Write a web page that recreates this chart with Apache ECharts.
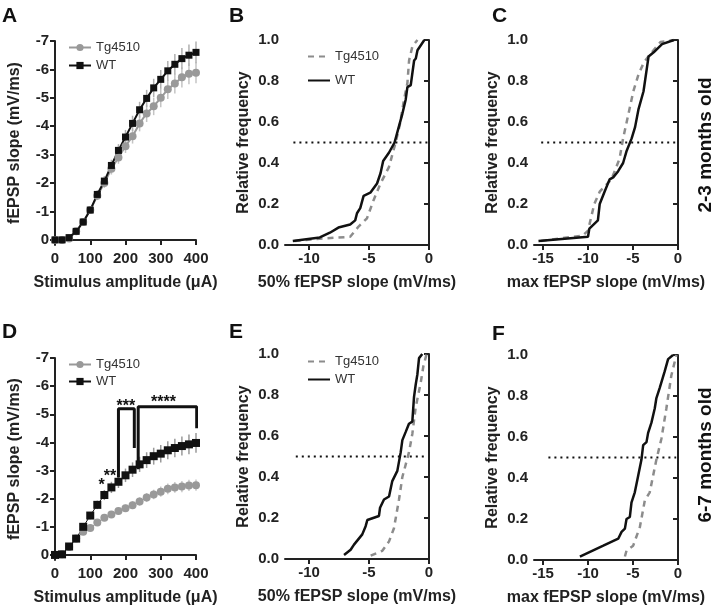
<!DOCTYPE html>
<html>
<head>
<meta charset="utf-8">
<script src="https://cdn.jsdelivr.net/npm/echarts@6/dist/echarts.min.js"></script>
<style>
  html, body { margin: 0; padding: 0; background: #fff; }
  #chart { width: 721px; height: 607px; }
</style>
</head>
<body>
<div id="chart"></div>
<script>
var FONT = 'Liberation Sans, Arial, sans-serif';

// stimulus amplitudes (uA)
var amps = [0,20,40,60,80,100,120,140,160,180,200,220,240,260,280,300,320,340,360,380,400];

// panel A, 2-3 months
var wtA = [0,0,-0.08,-0.3,-0.63,-1.05,-1.6,-2.07,-2.62,-3.15,-3.62,-4.1,-4.58,-4.98,-5.35,-5.65,-5.95,-6.18,-6.38,-6.5,-6.6];
var wtSemA = [0,0.02,0.05,0.08,0.1,0.12,0.15,0.18,0.2,0.22,0.25,0.27,0.28,0.3,0.32,0.33,0.35,0.36,0.37,0.38,0.38];
var tgA = [0,0,-0.05,-0.3,-0.63,-1.05,-1.55,-2.0,-2.5,-2.9,-3.3,-3.65,-4.1,-4.45,-4.7,-5.0,-5.3,-5.5,-5.72,-5.85,-5.88];
var tgSemA = [0,0.02,0.05,0.08,0.1,0.12,0.15,0.17,0.2,0.22,0.24,0.26,0.28,0.3,0.31,0.33,0.34,0.35,0.36,0.37,0.37];

// panel D, 6-7 months
var wtD = [0,-0.02,-0.3,-0.58,-1.0,-1.4,-1.78,-2.13,-2.4,-2.6,-2.83,-3.03,-3.22,-3.37,-3.51,-3.6,-3.72,-3.8,-3.87,-3.93,-3.98];
var wtSemD = [0,0.02,0.05,0.08,0.1,0.13,0.15,0.18,0.2,0.22,0.24,0.26,0.27,0.28,0.3,0.31,0.32,0.33,0.34,0.35,0.35];
var tgD = [0,-0.02,-0.28,-0.58,-0.82,-0.96,-1.15,-1.32,-1.44,-1.56,-1.66,-1.77,-1.9,-2.04,-2.15,-2.25,-2.35,-2.4,-2.43,-2.47,-2.48];
var tgSemD = [0,0.02,0.04,0.06,0.07,0.08,0.09,0.1,0.11,0.12,0.13,0.14,0.15,0.16,0.17,0.18,0.19,0.19,0.2,0.2,0.2];

// significance brackets and stars (panel D)
var bracket3 = [[180,-2.75],[180,-5.2],[225,-5.2],[225,-3.8]];
var bracket4 = [[236,-3.05],[236,-5.27],[402,-5.27],[402,-4.5]];
var stars = [[132,-2.45,'*'],[156,-2.8,'**'],[201,-5.27,'***'],[308,-5.43,'****']];

// cumulative distributions [slope, relative frequency]
var wtB = [[-11.35,0.02],[-9.1,0.037],[-8.26,0.06],[-7.55,0.085],[-6.57,0.1],[-6.15,0.12],[-6.0,0.155],[-5.73,0.18],[-5.45,0.24],[-4.89,0.255],[-4.33,0.3],[-4.04,0.35],[-3.82,0.41],[-3.34,0.45],[-2.87,0.5],[-2.5,0.58],[-2.22,0.64],[-1.94,0.71],[-1.8,0.77],[-1.52,0.78],[-1.37,0.845],[-1.24,0.9],[-1.1,0.91],[-0.96,0.95],[-0.39,1.0]];
var tgB = [[-11.2,0.02],[-8.82,0.032],[-6.57,0.04],[-5.87,0.09],[-5.17,0.13],[-4.61,0.22],[-4.04,0.3],[-3.34,0.38],[-2.78,0.5],[-2.42,0.59],[-2.08,0.71],[-1.8,0.79],[-1.66,0.9],[-1.38,0.97],[-0.96,1.0]];
var wtC = [[-15.5,0.02],[-10.0,0.04],[-9.85,0.08],[-8.9,0.12],[-8.7,0.2],[-8.16,0.26],[-7.6,0.32],[-7.2,0.33],[-6.65,0.36],[-6.1,0.4],[-5.7,0.46],[-5.15,0.52],[-4.77,0.575],[-4.4,0.66],[-3.83,0.75],[-3.27,0.92],[-2.7,0.94],[-1.77,0.98],[-0.45,1.0]];
var tgC = [[-15.2,0.02],[-10.6,0.046],[-10.0,0.07],[-9.3,0.2],[-8.7,0.26],[-7.4,0.32],[-6.5,0.42],[-6.1,0.52],[-5.7,0.6],[-4.96,0.75],[-4.4,0.83],[-3.8,0.89],[-3.1,0.93],[-1.95,0.99],[-0.45,1.0]];
var wtE = [[-7.08,0.02],[-6.53,0.045],[-6.25,0.07],[-5.56,0.12],[-5.28,0.16],[-5.14,0.19],[-4.17,0.21],[-4.08,0.25],[-3.75,0.29],[-3.33,0.305],[-3.06,0.38],[-2.64,0.43],[-2.5,0.43],[-2.36,0.52],[-2.22,0.58],[-1.94,0.62],[-1.67,0.66],[-1.39,0.67],[-1.25,0.79],[-1.11,0.85],[-0.97,0.9],[-0.83,0.98],[-0.56,1.0]];
var tgE = [[-4.86,0.016],[-3.89,0.04],[-3.33,0.086],[-2.92,0.15],[-2.5,0.29],[-2.22,0.4],[-1.67,0.52],[-1.39,0.61],[-1.11,0.74],[-0.69,0.86],[-0.47,0.94],[-0.2,1.0]];
var wtF = [[-10.9,0.017],[-8.3,0.07],[-6.64,0.104],[-6.27,0.137],[-5.9,0.153],[-5.72,0.2],[-5.35,0.21],[-5.17,0.28],[-4.8,0.33],[-4.43,0.41],[-4.06,0.49],[-3.87,0.56],[-3.5,0.575],[-3.32,0.62],[-2.95,0.67],[-2.58,0.74],[-2.4,0.79],[-2.03,0.84],[-1.48,0.92],[-1.1,0.98],[-0.55,1.0]];
var tgF = [[-5.9,0.017],[-5.72,0.046],[-4.98,0.07],[-4.24,0.16],[-3.69,0.29],[-3.14,0.33],[-2.4,0.49],[-1.85,0.59],[-1.29,0.74],[-0.74,0.9],[-0.18,1.0]];

// 50% reference lines
var halfB = [[-11.3,0.5],[0,0.5]];
var halfC = [[-15.2,0.5],[0,0.5]];
var halfE = [[-11.1,0.5],[-0.3,0.5]];
var halfF = [[-14.4,0.5],[-0.2,0.5]];

var chart = echarts.init(document.getElementById('chart'));

var axisLine = { lineStyle: { color: '#222', width: 2 } };
var axisTick = { length: 5, lineStyle: { color: '#222', width: 2 } };
var labelStyle = { color: '#222', fontSize: 15, fontWeight: 'bold', fontFamily: FONT, margin: 6 };
var nameStyle = { color: '#222', fontSize: 16, fontWeight: 'bold', fontFamily: FONT };

function ampAxis(idx) {
	return {
		type: 'value', gridIndex: idx, min: 0, max: 400, interval: 100,
		axisLine: axisLine, axisTick: axisTick, splitLine: { show: false },
		axisLabel: labelStyle,
		name: 'Stimulus amplitude (\u03bcA)', nameLocation: 'middle', nameGap: 30, nameTextStyle: nameStyle
	};
}
function slopeAxis(idx) {
	return {
		type: 'value', gridIndex: idx, inverse: true, min: -7, max: 0.18,
		axisLine: axisLine, splitLine: { show: false },
		axisTick: Object.assign({ customValues: [-7,-6,-5,-4,-3,-2,-1,0] }, axisTick),
		axisLabel: Object.assign({ customValues: [-7,-6,-5,-4,-3,-2,-1,0] }, labelStyle),
		name: 'fEPSP slope (mV/ms)', nameLocation: 'middle', nameGap: 32, nameTextStyle: nameStyle
	};
}
function cdfXAxis(idx, min, ticks, title) {
	return {
		type: 'value', gridIndex: idx, min: min, max: 0,
		axisLine: axisLine, splitLine: { show: false },
		axisTick: Object.assign({ customValues: ticks }, axisTick),
		axisLabel: Object.assign({ customValues: ticks }, labelStyle),
		name: title, nameLocation: 'middle', nameGap: 30, nameTextStyle: nameStyle
	};
}
function freqAxis(idx) {
	return {
		type: 'value', gridIndex: idx, min: 0, max: 1, interval: 0.2,
		axisLine: axisLine, axisTick: axisTick, splitLine: { show: false },
		axisLabel: Object.assign({ formatter: function (v) { return v.toFixed(1); } }, labelStyle),
		name: 'Relative frequency', nameLocation: 'middle', nameGap: 33, nameTextStyle: nameStyle
	};
}

function errorBars(name, idx, means, sems, color) {
	var data = amps.map(function (a, i) { return [a, means[i] - sems[i], means[i] + sems[i]]; });
	return {
		type: 'custom', name: name, xAxisIndex: idx, yAxisIndex: idx, z: 1, silent: true,
		data: data,
		renderItem: function (params, api) {
			var p1 = api.coord([api.value(0), api.value(1)]);
			var p2 = api.coord([api.value(0), api.value(2)]);
			return { type: 'line', shape: { x1: p1[0], y1: p1[1], x2: p2[0], y2: p2[1] }, style: { stroke: color, lineWidth: 1.5 } };
		}
	};
}
function meanLine(name, idx, means, symbol, color, lw, size) {
	return {
		type: 'line', name: name, xAxisIndex: idx, yAxisIndex: idx, z: 3,
		data: amps.map(function (a, i) { return [a, means[i]]; }),
		symbol: symbol, symbolSize: size, showSymbol: true,
		itemStyle: { color: color }, lineStyle: { color: color, width: lw }
	};
}
function cdfLine(name, idx, data, dashed) {
	return {
		type: 'line', name: name, xAxisIndex: idx, yAxisIndex: idx, data: data, symbol: 'none',
		z: dashed ? 2 : 3,
		itemStyle: { color: dashed ? '#8c8c8c' : '#111' },
		lineStyle: { color: dashed ? '#8c8c8c' : '#111', width: 2.5, type: dashed ? [6, 5] : 'solid' }
	};
}
function halfLine(idx, data) {
	return {
		type: 'line', xAxisIndex: idx, yAxisIndex: idx, data: data, symbol: 'none', silent: true,
		lineStyle: { color: '#111', width: 2, type: [2, 4] }
	};
}
function bracket(data) {
	return {
		type: 'line', xAxisIndex: 3, yAxisIndex: 3, data: data, symbol: 'none', z: 4, silent: true,
		lineStyle: { color: '#111', width: 3 }
	};
}
function legendFor(names, left, top, gap, lineOnly) {
	var lg = {
		orient: 'vertical', left: left, top: top, itemGap: gap, itemWidth: 22, itemHeight: 9,
		selectedMode: false, data: names,
		formatter: function (n) { return n.split('|')[0]; },
		textStyle: { color: '#333', fontSize: 13, fontFamily: FONT }
	};
	if (lineOnly) lg.itemStyle = { opacity: 0 };
	return lg;
}

var letter = function (t, x, y) {
	return { type: 'text', left: x, top: y, style: { text: t, font: 'bold 21px ' + FONT, fill: '#111' } };
};
var rowLabel = function (t, cy) {
	return { type: 'text', x: 706, y: cy, rotation: Math.PI / 2,
		style: { text: t, font: 'bold 19px ' + FONT, fill: '#111', textAlign: 'center', textVerticalAlign: 'middle' } };
};

var option = {
	animation: false,
	backgroundColor: '#fff',
	grid: [
		{ left: 55, top: 41, width: 141, height: 204 },
		{ left: 285, top: 40, width: 144, height: 205 },
		{ left: 534, top: 40, width: 144, height: 205 },
		{ left: 55, top: 358, width: 141, height: 205 },
		{ left: 285, top: 354, width: 144, height: 205 },
		{ left: 534, top: 355, width: 144, height: 205 }
	],
	xAxis: [
		ampAxis(0),
		cdfXAxis(1, -12, [-10, -5, 0], '50% fEPSP slope (mV/ms)'),
		cdfXAxis(2, -16, [-15, -10, -5, 0], 'max fEPSP slope (mV/ms)'),
		ampAxis(3),
		cdfXAxis(4, -12, [-10, -5, 0], '50% fEPSP slope (mV/ms)'),
		cdfXAxis(5, -16, [-15, -10, -5, 0], 'max fEPSP slope (mV/ms)')
	],
	yAxis: [slopeAxis(0), freqAxis(1), freqAxis(2), slopeAxis(3), freqAxis(4), freqAxis(5)],
	legend: [
		legendFor(['Tg4510|A', 'WT|A'], 63, 36, 5, false),
		legendFor(['Tg4510|B', 'WT|B'], 302, 45, 11, true),
		legendFor(['Tg4510|D', 'WT|D'], 63, 353, 4, false),
		legendFor(['Tg4510|E', 'WT|E'], 302, 350, 5, true)
	],
	graphic: [
		letter('A', 2, 6), letter('B', 229, 6), letter('C', 492, 6),
		letter('D', 2, 322), letter('E', 229, 322), letter('F', 492, 324),
		rowLabel('2-3 months old', 145), rowLabel('6-7 months old', 455)
	],
	series: [
		errorBars('eTgA', 0, tgA, tgSemA, '#c4c4c4'),
		errorBars('eWtA', 0, wtA, wtSemA, '#b0b0b0'),
		meanLine('Tg4510|A', 0, tgA, 'circle', '#999', 2, 8),
		meanLine('WT|A', 0, wtA, 'rect', '#111', 2, 7),

		halfLine(1, halfB),
		cdfLine('Tg4510|B', 1, tgB, true),
		cdfLine('WT|B', 1, wtB, false),

		halfLine(2, halfC),
		cdfLine('Tg4510|C', 2, tgC, true),
		cdfLine('WT|C', 2, wtC, false),

		errorBars('eTgD', 3, tgD, tgSemD, '#c8c8c8'),
		errorBars('eWtD', 3, wtD, wtSemD, '#999'),
		meanLine('Tg4510|D', 3, tgD, 'circle', '#999', 1, 8),
		meanLine('WT|D', 3, wtD, 'rect', '#111', 1, 8),
		bracket(bracket3),
		bracket(bracket4),
		{
			type: 'custom', xAxisIndex: 3, yAxisIndex: 3, z: 5, silent: true,
			data: stars,
			renderItem: function (params, api) {
				var p = api.coord([api.value(0), api.value(1)]);
				return { type: 'text', x: p[0], y: p[1],
					style: { text: stars[params.dataIndex][2], font: 'bold 16px ' + FONT, fill: '#111', textAlign: 'center', textVerticalAlign: 'middle' } };
			}
		},

		halfLine(4, halfE),
		cdfLine('Tg4510|E', 4, tgE, true),
		cdfLine('WT|E', 4, wtE, false),

		halfLine(5, halfF),
		cdfLine('Tg4510|F', 5, tgF, true),
		cdfLine('WT|F', 5, wtF, false)
	]
};

chart.setOption(option);
</script>
</body>
</html>
